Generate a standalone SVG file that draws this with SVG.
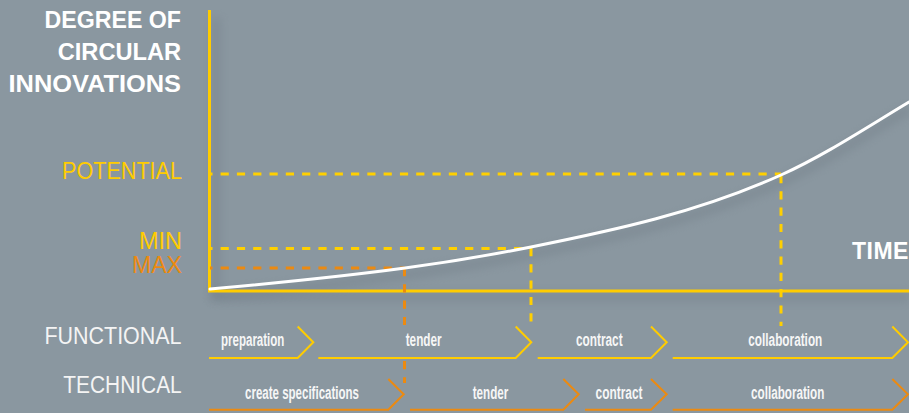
<svg xmlns="http://www.w3.org/2000/svg" width="909" height="413" viewBox="0 0 909 413">
  <defs>
    <filter id="shadow" x="-20%" y="-20%" width="140%" height="160%">
      <feGaussianBlur stdDeviation="5"/>
    </filter>
    <style>
      .bg { fill: #8A97A0; }
      .axis { fill: none; stroke: #FFCC00; stroke-width: 3; }
      .shadow { fill: none; stroke: #6F7C85; stroke-width: 8; opacity: 0.45; filter: url(#shadow); }
      .curve { fill: none; stroke: #FFFFFF; stroke-width: 3; stroke-linecap: round; }
      .dash-y { fill: none; stroke: #FFD000; stroke-width: 3; stroke-dasharray: 8.2 8.1; }
      .dash-o { fill: none; stroke: #EC8A10; stroke-width: 3; stroke-dasharray: 8.2 8.1; }
      .chev-y { fill: none; stroke: #FFCC00; stroke-width: 2; }
      .chev-o { fill: none; stroke: #EC8A10; stroke-width: 2; }
      .title { font-family: "Liberation Sans", Arial, sans-serif; font-weight: bold; font-size: 23px; fill: #FFFFFF; }
      .ylab { font-family: "Liberation Sans", Arial, sans-serif; font-size: 23px; }
      .rowlab { font-family: "Liberation Sans", Arial, sans-serif; font-size: 23px; fill: #F4F4F4; }
      .step { font-family: "Liberation Sans", Arial, sans-serif; font-weight: bold; font-size: 18px; fill: #F6F6F6; text-anchor: middle; }
    </style>
  </defs>

  <rect class="bg" x="0" y="0" width="909" height="413"/>

  <!-- soft shadows -->
  <g id="shadows">
    <path class="shadow" d="M216,18 V297 H909"/>
    <path class="shadow" transform="translate(0,7)" d="M210,289 C275,283.15 340,276.8 405,268 C447,262.33 489,255.4 531,247 C614.3,230.3 697.7,212.5 781,175 C823.7,155.8 866.3,127.6 909,102"/>
  </g>

  <!-- axes -->
  <g id="axes">
    <path class="axis" d="M209.5,10 V291 H909"/>
  </g>

  <!-- axis title & value labels -->
  <g id="y-title">
    <text class="title" x="44.5" y="27.5" textLength="136.5" lengthAdjust="spacingAndGlyphs">DEGREE OF</text>
    <text class="title" x="57.7" y="60" textLength="123.5" lengthAdjust="spacingAndGlyphs">CIRCULAR</text>
    <text class="title" x="8.5" y="91.8" textLength="172.5" lengthAdjust="spacingAndGlyphs">INNOVATIONS</text>
  </g>
  <g id="x-title">
    <text class="title" x="852" y="259" letter-spacing="0.5">TIME</text>
  </g>
  <g id="level-labels">
    <text class="ylab" x="62" y="179" fill="#FFCC00" textLength="120" lengthAdjust="spacingAndGlyphs">POTENTIAL</text>
    <text class="ylab" x="139" y="249" fill="#FFCC00" textLength="43" lengthAdjust="spacingAndGlyphs">MIN</text>
    <text class="ylab" x="132" y="273" fill="#EC8A10" textLength="50" lengthAdjust="spacingAndGlyphs">MAX</text>
  </g>

  <!-- connectors: dashed guide lines -->
  <g id="connectors">
    <path class="dash-y" stroke-dashoffset="5.7" d="M210,174 H781"/>
    <path class="dash-y" stroke-dashoffset="5.7" d="M210,248.5 H531"/>
    <path class="dash-o" stroke-dashoffset="5.7" d="M210,268 H405"/>
    <path class="dash-y" d="M781,175 V326"/>
    <path class="dash-y" d="M531,248 V326"/>
    <path class="dash-o" d="M404.5,268 V326"/>
    <path class="dash-o" d="M404.5,361 V383"/>
  </g>

  <!-- curve -->
  <g id="curve">
    <path class="curve" d="M210,289 C275,283.15 340,276.8 405,268 C447,262.33 489,255.4 531,247 C614.3,230.3 697.7,212.5 781,175 C823.7,155.8 866.3,127.6 909,102"/>
  </g>

  <!-- row labels -->
  <g id="row-labels">
    <text class="rowlab" x="44.5" y="344" textLength="137" lengthAdjust="spacingAndGlyphs">FUNCTIONAL</text>
    <text class="rowlab" x="63.3" y="393.3" textLength="118.4" lengthAdjust="spacingAndGlyphs">TECHNICAL</text>
  </g>

  <!-- functional row -->
  <g id="f-preparation">
    <path class="chev-y" d="M209,358 H297.7 L313.3,342.3 L297.7,326.5"/>
    <text class="step" x="252.7" y="345.7" textLength="63.3" lengthAdjust="spacingAndGlyphs">preparation</text>
  </g>
  <g id="f-tender">
    <path class="chev-y" d="M318.3,358 H515.7 L531.3,342.3 L515.7,326.5"/>
    <text class="step" x="423.7" y="345.7" textLength="36" lengthAdjust="spacingAndGlyphs">tender</text>
  </g>
  <g id="f-contract">
    <path class="chev-y" d="M537.7,358 H651 L666.7,342.3 L651,326.5"/>
    <text class="step" x="599.3" y="345.7" textLength="46.7" lengthAdjust="spacingAndGlyphs">contract</text>
  </g>
  <g id="f-collaboration">
    <path class="chev-y" d="M672.7,358 H892.3 L908,342.3 L892.3,326.5"/>
    <text class="step" x="785.3" y="345.7" textLength="74" lengthAdjust="spacingAndGlyphs">collaboration</text>
  </g>

  <!-- technical row -->
  <g id="t-specifications">
    <path class="chev-o" d="M209,409.7 H388.3 L403.7,394.3 L388.3,379"/>
    <text class="step" x="302" y="398.5" textLength="114" lengthAdjust="spacingAndGlyphs">create specifications</text>
  </g>
  <g id="t-tender">
    <path class="chev-o" d="M410,409.7 H563.3 L578.7,394.3 L563.3,379"/>
    <text class="step" x="490.5" y="398.5" textLength="35.6" lengthAdjust="spacingAndGlyphs">tender</text>
  </g>
  <g id="t-contract">
    <path class="chev-o" d="M585,409.7 H651 L666.7,394.3 L651,379"/>
    <text class="step" x="619" y="398.5" textLength="47" lengthAdjust="spacingAndGlyphs">contract</text>
  </g>
  <g id="t-collaboration">
    <path class="chev-o" d="M672.7,409.7 H892.3 L908,394.3 L892.3,379"/>
    <text class="step" x="787.7" y="398.5" textLength="73.3" lengthAdjust="spacingAndGlyphs">collaboration</text>
  </g>
</svg>
